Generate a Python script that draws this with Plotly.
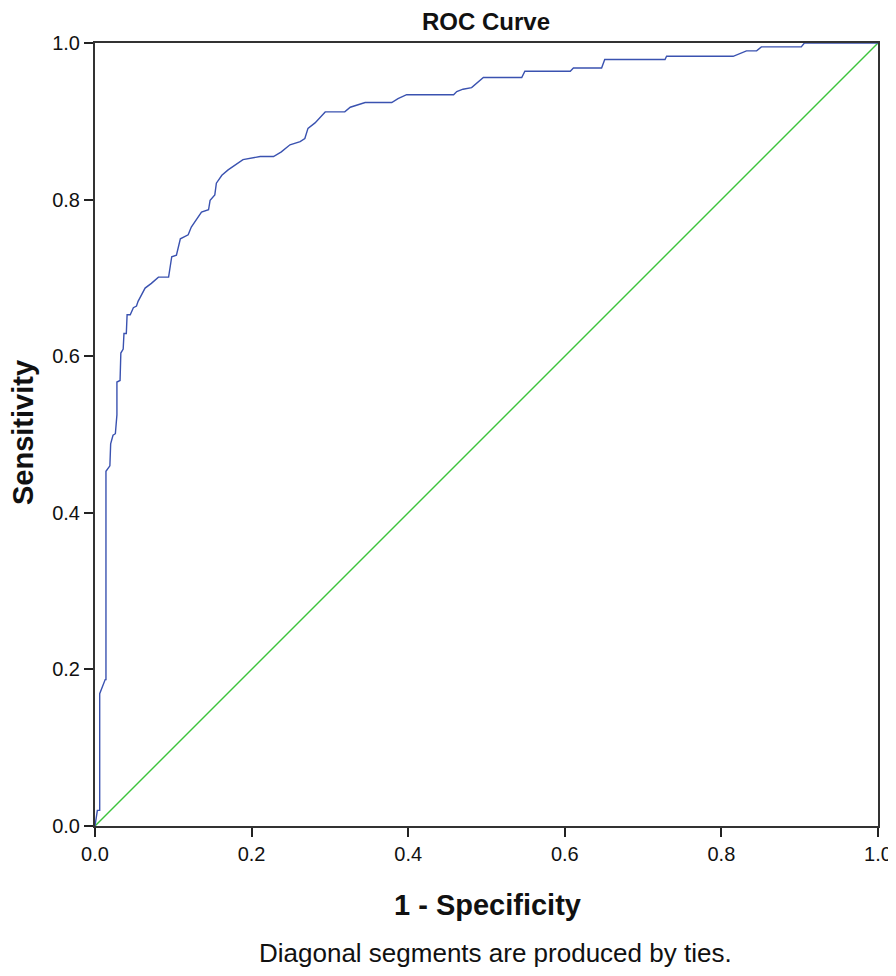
import plotly.graph_objects as go

# punti della curva ROC (1 - specificita, sensibilita)
fpr = [0.000, 0.003, 0.006, 0.006, 0.013, 0.014, 0.014, 0.019, 0.020, 0.023,
       0.026, 0.027, 0.028, 0.028, 0.032, 0.033, 0.036, 0.037, 0.040, 0.041,
       0.045, 0.049, 0.053, 0.055, 0.064, 0.072, 0.081, 0.094, 0.098, 0.104,
       0.109, 0.119, 0.123, 0.136, 0.145, 0.147, 0.153, 0.155, 0.162, 0.170,
       0.179, 0.189, 0.211, 0.228, 0.238, 0.249, 0.262, 0.268, 0.272, 0.281,
       0.294, 0.319, 0.326, 0.345, 0.379, 0.387, 0.398, 0.458, 0.462, 0.470,
       0.481, 0.487, 0.496, 0.545, 0.549, 0.607, 0.611, 0.647, 0.651, 0.728,
       0.730, 0.815, 0.832, 0.845, 0.851, 0.902, 0.906, 1.000]
tpr = [0.000, 0.020, 0.020, 0.169, 0.187, 0.187, 0.453, 0.460, 0.488, 0.499,
       0.501, 0.523, 0.525, 0.567, 0.569, 0.604, 0.609, 0.629, 0.629, 0.653,
       0.653, 0.662, 0.664, 0.670, 0.687, 0.693, 0.701, 0.701, 0.727, 0.729,
       0.750, 0.755, 0.765, 0.784, 0.787, 0.799, 0.806, 0.821, 0.831, 0.838,
       0.844, 0.851, 0.855, 0.855, 0.861, 0.870, 0.874, 0.878, 0.891, 0.898,
       0.912, 0.912, 0.918, 0.924, 0.924, 0.929, 0.934, 0.934, 0.938, 0.941,
       0.943, 0.948, 0.956, 0.956, 0.964, 0.964, 0.968, 0.968, 0.979, 0.979,
       0.983, 0.983, 0.990, 0.990, 0.995, 0.995, 1.000, 1.000]

# linea di riferimento
ref_x = [0.0, 1.0]
ref_y = [0.0, 1.0]

tick_vals = [0.0, 0.2, 0.4, 0.6, 0.8, 1.0]
tick_text = ['0.0', '0.2', '0.4', '0.6', '0.8', '1.0']

font = 'Liberation Sans, Arial'

curva = go.Scatter(x=fpr, y=tpr, mode='lines',
                   line=dict(color='#3A52B0', width=1.4),
                   showlegend=False)
diagonale = go.Scatter(x=ref_x, y=ref_y, mode='lines',
                       line=dict(color='#3DC43D', width=1.4),
                       showlegend=False)

fig = go.Figure(data=[diagonale, curva])

asse = dict(range=[0, 1], tickvals=tick_vals, ticktext=tick_text,
            ticks='outside', ticklen=9, tickwidth=2, tickcolor='#222',
            showline=True, linecolor='#333', linewidth=2, mirror=True,
            showgrid=False, zeroline=False, fixedrange=True,
            tickfont=dict(family=font, size=20, color='#111'))

# la pagina html ha 8px di margine sul body: la figura e' ridotta di 8px
# cosi' l'area del grafico cade a 95..878 x 43..826 nella finestra
def px(xp):
    return (xp - 95) / 783

def py(yp):
    return (826 - yp) / 783

def nota(testo, x, y, size, angle=0):
    return dict(text=testo, xref='paper', yref='paper', x=x, y=y,
                xanchor='center', yanchor='middle', showarrow=False,
                textangle=angle, font=dict(family=font, size=size, color='#111'))

fig.update_layout(
    width=888, height=968,
    margin=dict(l=87, r=18, t=35, b=150, autoexpand=False),
    plot_bgcolor='white', paper_bgcolor='white',
    xaxis=asse, yaxis=asse,
    annotations=[
        nota('<b>ROC Curve</b>', px(486), py(21), 24),
        nota('<b>1 - Specificity</b>', px(487), py(905), 29),
        nota('Diagonal segments are produced by ties.', px(496), py(953), 26),
        nota('<b>Sensitivity</b>', px(23), py(433), 29, angle=-90),
    ],
)

fig.write_html('out.html')
